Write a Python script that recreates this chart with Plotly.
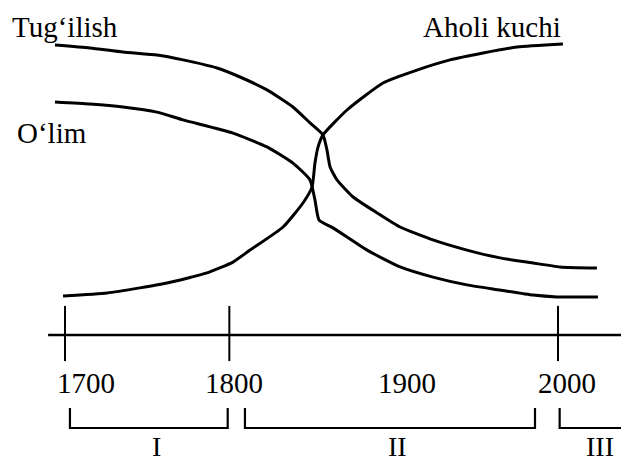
import plotly.graph_objects as go

# schematic demographic transition: birth rate, death rate, population growth
birth_year = [1693.9, 1715.2, 1735.3, 1756.0, 1771.8, 1792.5, 1806.5, 1822.9, 1838.7, 1849.1,
              1857.0, 1859.4, 1861.3, 1865.5, 1875.3, 1889.9, 1903.9, 1923.9, 1944.6, 1964.7,
              1984.8, 2001.2, 2023.7]
birth_level = [96.7, 95.7, 94.3, 93.3, 91.7, 89.0, 86.0, 81.7, 76.0, 70.7,
               66.7, 61.7, 56.0, 51.7, 46.0, 40.7, 36.0, 31.7, 28.3, 25.7,
               24.0, 22.7, 22.3]

death_year = [1693.9, 1715.2, 1735.3, 1756.0, 1771.8, 1802.2, 1822.9, 1838.7, 1849.1, 1852.1,
              1854.6, 1863.1, 1883.8, 1903.9, 1923.9, 1944.6, 1964.7, 1984.8, 1999.4, 2024.3]
death_level = [77.7, 77.0, 76.0, 74.3, 71.7, 67.3, 62.7, 57.3, 51.7, 45.0,
               38.3, 35.7, 28.3, 22.7, 19.3, 16.7, 15.0, 13.3, 12.7, 12.7]

pop_year = [1698.8, 1725.6, 1745.6, 1762.1, 1786.4, 1802.2, 1812.6, 1832.7, 1844.8, 1850.3,
            1852.1, 1854.0, 1857.0, 1871.6, 1893.5, 1914.2, 1934.3, 1954.4, 1975.1, 2003.0]
pop_level = [13.0, 14.0, 15.7, 17.3, 20.7, 24.3, 28.3, 36.0, 44.0, 49.3,
             57.3, 62.7, 66.7, 75.0, 84.0, 88.3, 91.7, 94.0, 96.0, 97.0]

tick_years = [1700, 1800, 2000, 2040]
label_years = [1700, 1800, 1900, 2000]
label_text = ["1700", "1800", "1900", "2000"]

periods = ["I", "II", "III"]
period_start = [1703, 1809.5, 2001]
period_end = [1799, 1986, 2040.5]

axis_start, axis_end = 1689.7, 2040.8

FONT = "Liberation Serif, Times New Roman, serif"
INK = "black"

fig = go.Figure()

for xs, ys in [(birth_year, birth_level), (death_year, death_level), (pop_year, pop_level)]:
    fig.add_trace(go.Scatter(x=xs, y=ys, mode="lines", line=dict(color=INK, width=3, shape="spline", smoothing=0.5),
                             hoverinfo="skip", showlegend=False))

# time axis drawn inside the plot
fig.add_trace(go.Scatter(x=[axis_start, axis_end], y=[0, 0], mode="lines",
                         line=dict(color=INK, width=2.5), showlegend=False, hoverinfo="skip"))
tx, ty = [], []
for t in tick_years:
    tx += [t, t, None]
    ty += [9.7, -8.7, None]
fig.add_trace(go.Scatter(x=tx, y=ty, mode="lines", line=dict(color=INK, width=2),
                         showlegend=False, hoverinfo="skip"))

# period brackets
bx, by = [], []
for s, e in zip(period_start, period_end):
    bx += [s, s, e, e, None]
    by += [-24.3, -31, -31, -24.3, None]
fig.add_trace(go.Scatter(x=bx, y=by, mode="lines", line=dict(color=INK, width=2.2),
                         showlegend=False, hoverinfo="skip"))

label_shift = [21, 5, 13, 9]
for yr, txt, sh in zip(label_years, label_text, label_shift):
    fig.add_annotation(x=yr, y=-16, text=txt, showarrow=False, xshift=sh,
                       font=dict(family=FONT, size=29, color=INK))

for name, s, e in zip(periods, period_start, period_end):
    fig.add_annotation(x=(s + e) / 2, y=-37.2, text=name, showarrow=False, xshift=8,
                       font=dict(family=FONT, size=28, color=INK))

fig.add_annotation(x=1666.5, y=102.7, text="Tug‘ilish", showarrow=False, xanchor="left",
                   font=dict(family=FONT, size=29, color=INK))
fig.add_annotation(x=1669.6, y=67.3, text="O‘lim", showarrow=False, xanchor="left",
                   font=dict(family=FONT, size=29, color=INK))
fig.add_annotation(x=2003.0, y=102.7, text="Aholi kuchi", showarrow=False, xanchor="right",
                   font=dict(family=FONT, size=29, color=INK))

# the page adds an 8px body margin, so the figure is 8px smaller and the ranges start there
fig.update_layout(
    width=621, height=458, autosize=False,
    margin=dict(l=0, r=0, t=0, b=0),
    paper_bgcolor="white", plot_bgcolor="white",
    xaxis=dict(range=[1665.31, 2043.2], visible=False, fixedrange=True),
    yaxis=dict(range=[-43.67, 109.0], visible=False, fixedrange=True),
)

fig.write_html("out.html")
